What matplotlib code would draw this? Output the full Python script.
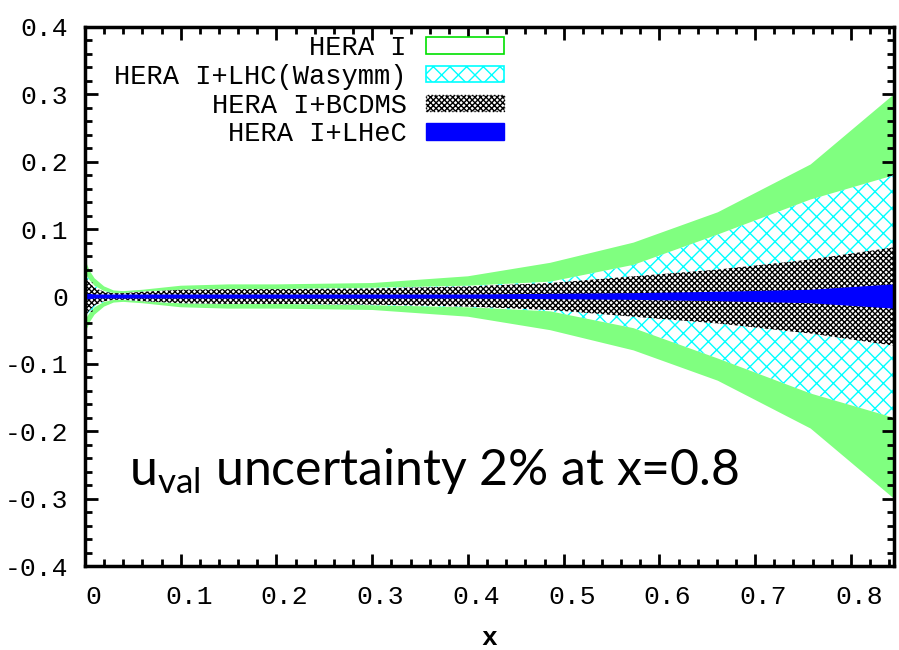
import numpy as np
import matplotlib
matplotlib.use("Agg")
import matplotlib.pyplot as plt
from matplotlib.patches import Patch
from matplotlib.ticker import MultipleLocator
from matplotlib.transforms import ScaledTranslation

plt.rcParams['axes.unicode_minus'] = False
plt.rcParams['mathtext.fontset'] = 'custom'
plt.rcParams['mathtext.rm'] = 'Lato'
plt.rcParams['hatch.linewidth'] = 1.0

# x nodes and half widths of the uncertainty bands
x = [0, 0.005, 0.01, 0.02, 0.03, 0.04, 0.06, 0.1, 0.15, 0.2, 0.3, 0.4,
     0.486, 0.573, 0.661, 0.758, 0.845]
hera = [0.055, 0.038, 0.027, 0.015, 0.009, 0.008, 0.010, 0.016, 0.018, 0.018,
        0.020, 0.030, 0.050, 0.080, 0.125, 0.196, 0.300]
hera_lhc = [0.035, 0.024, 0.016, 0.008, 0.005, 0.005, 0.007, 0.010, 0.011,
            0.011, 0.013, 0.016, 0.022, 0.047, 0.092, 0.144, 0.180]
hera_bcdms = [0.030, 0.020, 0.013, 0.007, 0.005, 0.005, 0.007, 0.010, 0.011,
              0.011, 0.012, 0.015, 0.020, 0.030, 0.040, 0.055, 0.073]
hera_lhec = [0.004, 0.004, 0.003, 0.003, 0.003, 0.003, 0.003, 0.003, 0.003,
             0.003, 0.003, 0.003, 0.004, 0.005, 0.007, 0.010, 0.018]

labels = ['HERA I', 'HERA I+LHC(Wasymm)', 'HERA I+BCDMS', 'HERA I+LHeC']
xticks = [0, 0.1, 0.2, 0.3, 0.4, 0.5, 0.6, 0.7, 0.8]
xtick_labels = ['0', '0.1', '0.2', '0.3', '0.4', '0.5', '0.6', '0.7', '0.8']
yticks = [-0.4, -0.3, -0.2, -0.1, 0, 0.1, 0.2, 0.3, 0.4]
ytick_labels = ['-0.4', '-0.3', '-0.2', '-0.1', '0', '0.1', '0.2', '0.3', '0.4']

x = np.array(x)
hera, hera_lhc = np.array(hera), np.array(hera_lhc)
hera_bcdms, hera_lhec = np.array(hera_bcdms), np.array(hera_lhec)

mono = 'Liberation Mono'
green = '#80ff80'

fig = plt.figure(figsize=(8.99, 6.5), dpi=100)
ax = fig.add_axes([85/899, 84/650, 809/899, 539/650])

ax.fill_between(x, -hera, hera, facecolor=green, edgecolor='none', zorder=1)
ax.fill_between(x, -hera_lhc, hera_lhc, facecolor='white', edgecolor='#00ffff',
                hatch='xx', linewidth=0, zorder=2)
ax.fill_between(x, -hera_bcdms, hera_bcdms, facecolor='white', edgecolor='black',
                hatch='xxxxxx', linewidth=0, zorder=3)
ax.fill_between(x, -hera_lhec, hera_lhec, facecolor='blue', edgecolor='none', zorder=4)

ax.set_xlim(0, 0.845)
ax.set_ylim(-0.4, 0.4)
ax.set_xticks(xticks)
ax.set_xticklabels(xtick_labels, family=mono, fontsize=19)
ax.set_yticks(yticks)
ax.set_yticklabels(ytick_labels, family=mono, fontsize=19)
ax.xaxis.set_minor_locator(MultipleLocator(0.02))
ax.yaxis.set_minor_locator(MultipleLocator(0.02))
ax.tick_params(which='both', direction='in', top=True, right=True, width=2)
ax.tick_params(which='major', length=9)
ax.tick_params(which='minor', length=5)
ax.tick_params(axis='x', pad=14)
ax.tick_params(axis='y', pad=12)
# gnuplot output has the x labels shifted a little to the right
for lab in ax.get_xticklabels():
    lab.set_transform(lab.get_transform() + ScaledTranslation(8/100, 0, fig.dpi_scale_trans))
for s in ax.spines.values():
    s.set_linewidth(2.5)
    s.set_zorder(10)

ax.set_xlabel('x', family=mono, fontsize=19, fontweight='bold', labelpad=12)

handles = [
    Patch(facecolor='white', edgecolor='#00e000', linewidth=1.2),
    Patch(facecolor='white', edgecolor='#00ffff', hatch='xx', linewidth=1.2),
    Patch(facecolor='white', edgecolor='black', hatch='xxxxxx', linewidth=1, linestyle=':'),
    Patch(facecolor='blue', edgecolor='blue'),
]
leg = ax.legend(handles, labels, loc='upper right', bbox_to_anchor=(0.521, 0.99),
                markerfirst=False, frameon=False, prop={'family': mono, 'size': 19.5},
                handlelength=2.88, handleheight=0.55, handletextpad=0.7,
                labelspacing=0.1, borderaxespad=0, borderpad=0.1)

ax.text(0.054, 0.15, r'u$_{\mathregular{val}}$ uncertainty 2% at x=0.8',
        transform=ax.transAxes, family='Lato', fontsize=36, color='black',
        va='baseline')

fig.savefig('out.png', dpi=100)
